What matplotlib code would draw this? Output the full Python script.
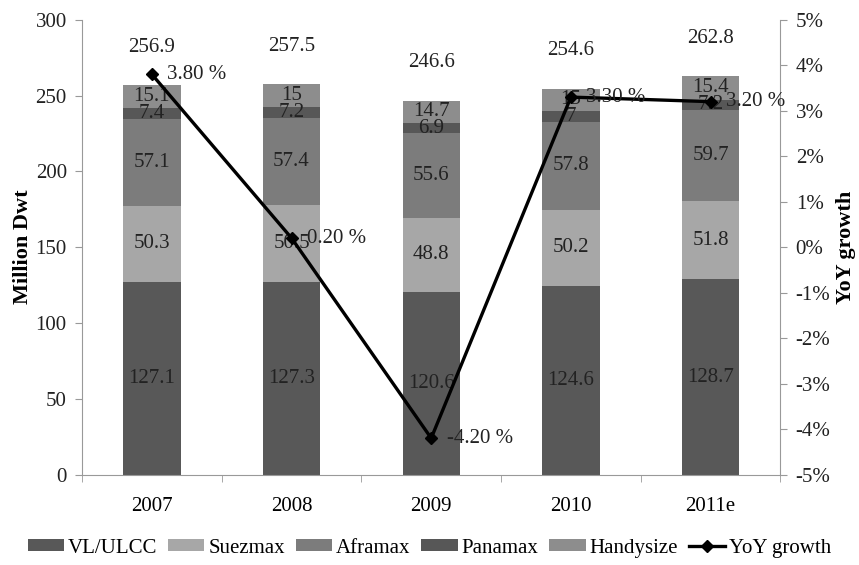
import matplotlib.pyplot as plt
import numpy as np

plt.rcParams['font.family'] = ['Liberation Serif', 'DejaVu Serif']

years = ['2007', '2008', '2009', '2010', '2011e']
vlcc = [127.1, 127.3, 120.6, 124.6, 128.7]
suezmax = [50.3, 50.5, 48.8, 50.2, 51.8]
aframax = [57.1, 57.4, 55.6, 57.8, 59.7]
panamax = [7.4, 7.2, 6.9, 7, 7.2]
handysize = [15.1, 15, 14.7, 15, 15.4]
totals = [256.9, 257.5, 246.6, 254.6, 262.8]
yoy = [3.8, 0.2, -4.2, 3.3, 3.2]
yoy_labels = ['3.80 %', '0.20 %', '-4.20 %', '3.30 %', '3.20 %']

series = [('VL/ULCC', vlcc, '#585858'),
          ('Suezmax', suezmax, '#a7a7a7'),
          ('Aframax', aframax, '#7c7c7c'),
          ('Panamax', panamax, '#575757'),
          ('Handysize', handysize, '#8d8d8d')]

fig = plt.figure(figsize=(8.59, 5.65), dpi=100)
ax = fig.add_axes([0.0955, 0.16, 0.813, 0.805])
x = np.arange(len(years))

bottom = np.zeros(len(years))
for name, vals, col in series:
    ax.bar(x, vals, 0.41, bottom=bottom, color=col, label=name)
    for xi, b, v in zip(x, bottom, vals):
        ax.text(xi, b + v / 2, str(v), ha='center', va='center', fontsize=15, color='#222222')
    bottom += np.array(vals)

# totals above each stack
for xi, t in zip(x, totals):
    ax.text(xi, t + 25, str(t), ha='center', va='center', fontsize=15, color='#222222')

ax.set_xlim(-0.5, len(years) - 0.5)
ax.set_ylim(0, 300)
ax.set_yticks(range(0, 301, 50))
ax.set_xticks(x)
ax.set_xticklabels(years)
ax.set_xticks(np.arange(-0.5, len(years), 1), minor=True)
ax.tick_params(axis='x', which='major', length=0, pad=16, labelsize=15)
ax.tick_params(axis='x', which='minor', length=5, color='#999999')
ax.tick_params(axis='y', length=5, pad=6, color='#999999', labelsize=15, colors='#222222')
ax.set_ylabel('Million Dwt', fontsize=16, fontweight='bold', labelpad=2)
for s in ['top', 'right']:
    ax.spines[s].set_visible(False)
for s in ['left', 'bottom']:
    ax.spines[s].set_color('#999999')

ax2 = ax.twinx()
ax2.plot(x, yoy, color='black', lw=2.4, marker='D', markersize=6.5, label='YoY growth')
for xi, v, lab in zip(x, yoy, yoy_labels):
    ax2.text(xi + 0.11, v, lab, ha='left', va='center', fontsize=15, color='#222222')
ax2.set_ylim(-5, 5)
ax2.set_yticks(range(-5, 6))
ax2.set_yticklabels([f'{v}%' for v in range(-5, 6)])
ax2.tick_params(axis='y', length=5, pad=6, color='#999999', labelsize=15, colors='#222222')
ax2.set_ylabel('YoY growth', fontsize=16, fontweight='bold', labelpad=4)
for s in ['top', 'left', 'bottom']:
    ax2.spines[s].set_visible(False)
ax2.spines['right'].set_color('#999999')

h1, l1 = ax.get_legend_handles_labels()
h2, l2 = ax2.get_legend_handles_labels()
fig.legend(h1 + h2, l1 + l2, loc='lower center', bbox_to_anchor=(0.5, -0.02), ncol=6,
           frameon=False, fontsize=15, handlelength=1.75, handleheight=0.55,
           handletextpad=0.2, columnspacing=0.5)

fig.savefig('out.png', dpi=100)
